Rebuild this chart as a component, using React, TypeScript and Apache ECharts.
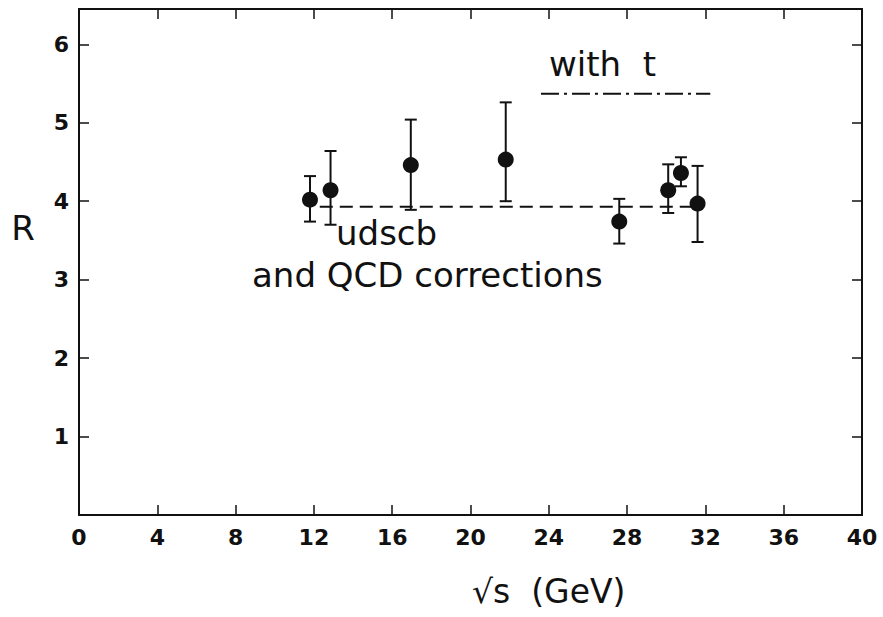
import React, { useEffect, useRef } from "react";
import * as echarts from "echarts";

const energies = [11.8, 12.85, 16.95, 21.8, 27.6, 30.1, 30.75, 31.6];
const rValues = [4.02, 4.14, 4.46, 4.53, 3.74, 4.14, 4.36, 3.97];
const errLow = [3.74, 3.7, 3.89, 4.0, 3.46, 3.85, 4.19, 3.48];
const errHigh = [4.32, 4.64, 5.04, 5.26, 4.03, 4.47, 4.56, 4.45];
const udscbLine = [
  [12.3, 3.93],
  [31.8, 3.93],
];
const withTLine = [
  [23.6, 5.37],
  [32.25, 5.37],
];
const xTicks = [0, 4, 8, 12, 16, 20, 24, 28, 32, 36, 40];
const yTicks = [1, 2, 3, 4, 5, 6];

const FONT = "DejaVu Sans";
const INK = "#111";

export default function App() {
  const ref = useRef<HTMLDivElement>(null);
  useEffect(() => {
    if (!ref.current) return;
    const chart = echarts.init(ref.current, null, { renderer: "svg" });
    const errData = energies.map((x, i) => [x, errLow[i], errHigh[i]]);
    const pts = energies.map((x, i) => [x, rValues[i]]);
    const axisLine = { show: true, onZero: false, lineStyle: { color: INK, width: 2 } };
    const tick = { show: true, inside: true, length: 10, lineStyle: { color: INK, width: 1.5 } };
    chart.setOption({
      animation: false,
      backgroundColor: "#fff",
      grid: { left: 79, right: 21, top: 9, bottom: 102, containLabel: false },
      xAxis: [
        {
          type: "value",
          min: 0,
          max: 40,
          interval: 4,
          position: "bottom",
          axisLine,
          axisTick: tick,
          splitLine: { show: false },
          axisLabel: {
            margin: 11,
            color: INK,
            fontFamily: FONT,
            fontWeight: "bold",
            fontSize: 22,
            formatter: (v: number) => (xTicks.includes(v) ? String(v) : ""),
          },
        },
        {
          type: "value",
          min: 0,
          max: 40,
          interval: 4,
          position: "top",
          axisLine,
          axisTick: tick,
          splitLine: { show: false },
          axisLabel: { show: false },
        },
      ],
      yAxis: [
        {
          type: "value",
          min: 0,
          max: 6.45,
          interval: 1,
          position: "left",
          axisLine,
          axisTick: tick,
          splitLine: { show: false },
          axisLabel: {
            margin: 10,
            color: INK,
            fontFamily: FONT,
            fontWeight: "bold",
            fontSize: 22,
            formatter: (v: number) => (yTicks.includes(v) ? String(v) : ""),
          },
        },
        {
          type: "value",
          min: 0,
          max: 6.45,
          interval: 1,
          position: "right",
          axisLine,
          axisTick: tick,
          splitLine: { show: false },
          axisLabel: { show: false },
        },
      ],
      series: [
        {
          type: "line",
          data: udscbLine,
          symbol: "none",
          lineStyle: { color: INK, width: 2, type: [13, 7] },
          z: 1,
        },
        {
          type: "line",
          data: withTLine,
          symbol: "none",
          lineStyle: { color: INK, width: 2, type: [18, 5, 3, 5] },
          z: 1,
        },
        {
          type: "custom",
          data: errData,
          z: 2,
          renderItem: (params: any, api: any) => {
            const x = api.value(0);
            const lo = api.coord([x, api.value(1)]);
            const hi = api.coord([x, api.value(2)]);
            const cap = 6;
            const style = { stroke: INK, lineWidth: 2 };
            return {
              type: "group",
              children: [
                { type: "line", shape: { x1: lo[0], y1: lo[1], x2: hi[0], y2: hi[1] }, style },
                { type: "line", shape: { x1: lo[0] - cap, y1: lo[1], x2: lo[0] + cap, y2: lo[1] }, style },
                { type: "line", shape: { x1: hi[0] - cap, y1: hi[1], x2: hi[0] + cap, y2: hi[1] }, style },
              ],
            };
          },
        },
        {
          type: "scatter",
          data: pts,
          symbol: "circle",
          symbolSize: 16,
          itemStyle: { color: INK, opacity: 1 },
          z: 3,
        },
      ],
      graphic: [
        {
          type: "text",
          x: 549,
          y: 64,
          style: { text: "with  t", font: `34px "${FONT}"`, fill: INK, verticalAlign: "middle" },
        },
        {
          type: "text",
          x: 336,
          y: 233,
          style: { text: "udscb", font: `34px "${FONT}"`, fill: INK, verticalAlign: "middle" },
        },
        {
          type: "text",
          x: 252,
          y: 275,
          style: { text: "and QCD corrections", font: `34px "${FONT}"`, fill: INK, verticalAlign: "middle" },
        },
        {
          type: "text",
          x: 23,
          y: 228,
          style: { text: "R", font: `34px "${FONT}"`, fill: INK, align: "center", verticalAlign: "middle" },
        },
        {
          type: "text",
          x: 472,
          y: 591,
          style: { text: "√s  (GeV)", font: `33px "${FONT}"`, fill: INK, verticalAlign: "middle" },
        },
      ],
    });
    return () => chart.dispose();
  }, []);
  return <div ref={ref} style={{ width: 883, height: 617, position: "absolute", left: 0, top: 0 }} />;
}
